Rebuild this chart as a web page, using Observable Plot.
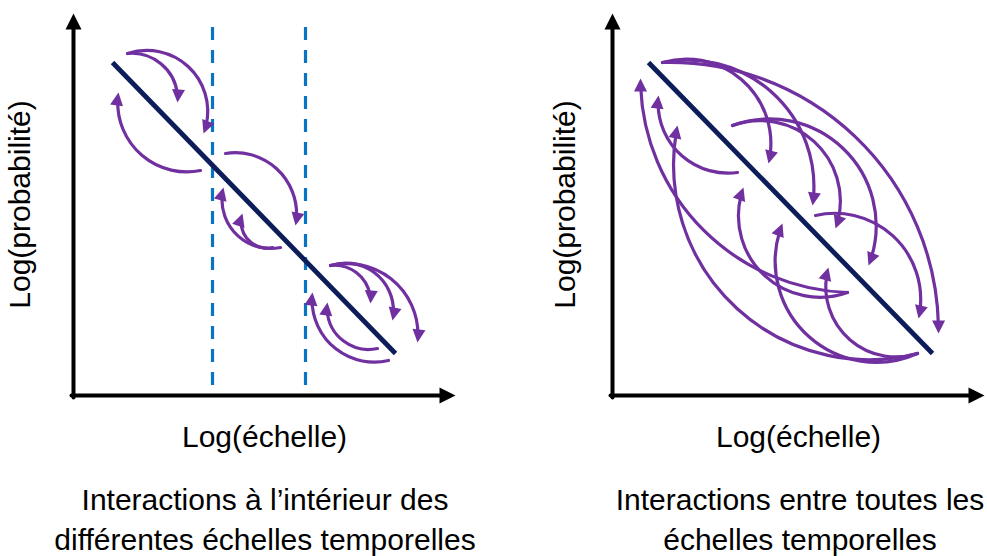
<!DOCTYPE html>
<html>
<head>
<meta charset="utf-8">
<script src="https://cdn.jsdelivr.net/npm/d3@7"></script>
<script src="https://cdn.jsdelivr.net/npm/@observablehq/plot@0.6"></script>
<style>
  body { margin: 0; background: #fff; }
  #wrap { position: relative; width: 987px; height: 556px; overflow: hidden; background: #fff;
          font-family: "Liberation Sans", Arial, sans-serif; }
  .panel { position: absolute; top: 0; }
  .cap { position: absolute; top: 480px; text-align: center; font-size: 30px; line-height: 40px;
         white-space: nowrap; color: #000; }
</style>
</head>
<body>
<div id="wrap"></div>
<script>
// ---------- text ----------
const xLabel = "Log(échelle)";
const yLabel = "Log(probabilité)";
const leftCaption = ["Interactions à l’intérieur des", "différentes échelles temporelles"];
const rightCaption = ["Interactions entre toutes les", "échelles temporelles"];

// ---------- left panel (units: log-scale, 0 = origin) ----------
const leftAxes = [
  {x1: 0, y1: -2, x2: 0, y2: 382, bend: 0},
  {x1: -2, y1: 0, x2: 382, y2: 0, bend: 0}
];
const leftDiagonal = [{x1: 39, y1: 333, x2: 322, y2: 42}];
const leftDashed = [
  {x: 139, y1: 10, y2: 372},
  {x: 232, y1: 10, y2: 372}
];
const leftArcs = [
  {x1: 54, y1: 342, x2: 104, y2: 293, bend: 50},
  {x1: 54, y1: 342, x2: 130, y2: 262, bend: 65},
  {x1: 127, y1: 225, x2: 45, y2: 303, bend: 55},
  {x1: 152, y1: 242, x2: 222, y2: 170, bend: 55},
  {x1: 207, y1: 148, x2: 150, y2: 208, bend: 58},
  {x1: 199, y1: 148, x2: 169, y2: 182, bend: 60},
  {x1: 257, y1: 130, x2: 297, y2: 92, bend: 50},
  {x1: 257, y1: 130, x2: 319, y2: 75, bend: 60},
  {x1: 257, y1: 130, x2: 344, y2: 53, bend: 55},
  {x1: 304, y1: 47, x2: 254, y2: 93, bend: 55},
  {x1: 315, y1: 35, x2: 239, y2: 103, bend: 55}
];

// ---------- right panel ----------
const rightAxes = [
  {x1: 0, y1: -2, x2: 0, y2: 382, bend: 0},
  {x1: -2, y1: 0, x2: 372, y2: 0, bend: 0}
];
const rightDiagonal = [{x1: 36, y1: 333, x2: 320, y2: 42}];
const rightArcs = [
  // from smaller to larger scales (above the line)
  {x1: 50, y1: 333, x2: 156, y2: 232, bend: 60},
  {x1: 50, y1: 333, x2: 200, y2: 190, bend: 55},
  {x1: 50, y1: 333, x2: 326, y2: 62, bend: 46},
  {x1: 120, y1: 270, x2: 223, y2: 167, bend: 65},
  {x1: 120, y1: 270, x2: 256, y2: 130, bend: 66},
  {x1: 203, y1: 180, x2: 306, y2: 77, bend: 58},
  // from larger to smaller scales (below the line)
  {x1: 125, y1: 223, x2: 46, y2: 300, bend: 52},
  {x1: 235, y1: 103, x2: 131, y2: 208, bend: 65},
  {x1: 235, y1: 103, x2: 28, y2: 317, bend: 44},
  {x1: 305, y1: 42, x2: 216, y2: 128, bend: 62},
  {x1: 305, y1: 42, x2: 170, y2: 172, bend: 68},
  {x1: 305, y1: 42, x2: 65, y2: 270, bend: 58}
];

// ---------- drawing ----------
const PURPLE = "#7030a0";
const NAVY = "#0c1d5a";
const BLUE = "#0a74c4";
const FONT = "'Liberation Sans', Arial, sans-serif";

// filled triangular arrowhead whose tip is at the symbol origin, pointing up
const head = (len, half) => ({
  draw(context) {
    context.moveTo(0, 0);
    context.lineTo(half, len);
    context.lineTo(-half, len);
    context.closePath();
  }
});
// direction (screen degrees, clockwise from +x) of the arc at its end point
const endRotate = d => Math.atan2(-(d.y2 - d.y1), d.x2 - d.x1) * 180 / Math.PI + d.bend + 90;

function panel({width, marginLeft, marginRight, axes, diagonal, dashed, arcs, yDx}) {
  const xMax = width - marginLeft - marginRight;
  return Plot.plot({
    width, height: 470,
    marginLeft, marginRight, marginTop: 13, marginBottom: 75,
    x: {domain: [0, xMax], axis: null},
    y: {domain: [0, 382], axis: null},
    style: {fontFamily: FONT, background: "white", overflow: "visible"},
    marks: [
      dashed ? Plot.ruleX(dashed, {x: "x", y1: "y1", y2: "y2", stroke: BLUE, strokeWidth: 3.2, strokeDasharray: "13,10"}) : null,
      ...arcs.map(a => Plot.arrow([a], {
        x1: "x1", y1: "y1", x2: "x2", y2: "y2", bend: a.bend,
        stroke: PURPLE, strokeWidth: 3.2, headLength: 0, insetEnd: 8
      })),
      Plot.dot(arcs, {x: "x2", y: "y2", symbol: head(13, 6.5), rotate: endRotate, fill: PURPLE, stroke: "none"}),
      Plot.link(diagonal, {x1: "x1", y1: "y1", x2: "x2", y2: "y2", stroke: NAVY, strokeWidth: 4.8}),
      Plot.arrow(axes, {x1: "x1", y1: "y1", x2: "x2", y2: "y2", stroke: "black", strokeWidth: 4, headLength: 0, insetEnd: 10}),
      Plot.dot(axes, {x: "x2", y: "y2", symbol: head(16, 8), rotate: endRotate, fill: "black", stroke: "none"}),
      Plot.text([xLabel], {frameAnchor: "bottom", dy: 42, lineAnchor: "middle", textAnchor: "middle",
        text: d => d, fontSize: 30, fill: "black"}),
      Plot.text([yLabel], {frameAnchor: "left", dx: yDx, rotate: -90, lineAnchor: "middle", textAnchor: "middle",
        text: d => d, fontSize: 30, fill: "black"})
    ]
  });
}

const wrap = document.getElementById("wrap");

const left = panel({width: 493, marginLeft: 73, marginRight: 38, axes: leftAxes,
  diagonal: leftDiagonal, dashed: leftDashed, arcs: leftArcs, yDx: -53});
left.classList.add("panel");
left.style.left = "0px";
wrap.appendChild(left);

const right = panel({width: 494, marginLeft: 119, marginRight: 3, axes: rightAxes,
  diagonal: rightDiagonal, dashed: null, arcs: rightArcs, yDx: -47});
right.classList.add("panel");
right.style.left = "493px";
wrap.appendChild(right);

function caption(lines, centerX) {
  const d = document.createElement("div");
  d.className = "cap";
  d.style.left = (centerX - 300) + "px";
  d.style.width = "600px";
  d.innerHTML = lines.map(l => `<div>${l}</div>`).join("");
  wrap.appendChild(d);
}
caption(leftCaption, 265);
caption(rightCaption, 800);
</script>
</body>
</html>
